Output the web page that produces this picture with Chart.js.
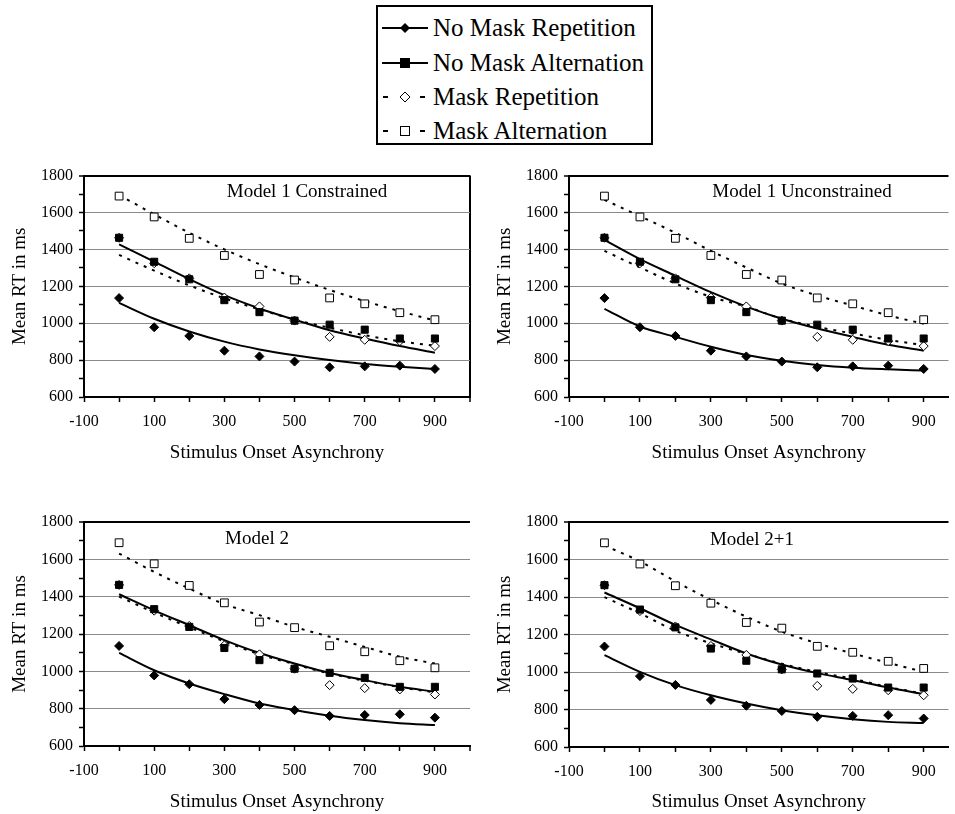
<!DOCTYPE html>
<html>
<head>
<meta charset="utf-8">
<script src="https://cdn.jsdelivr.net/npm/chart.js@4.4.0/dist/chart.umd.min.js"></script>
<style>
  body { margin: 0; background: #fff; width: 955px; height: 814px; overflow: hidden; position: relative; font-family: "Liberation Serif", "Times New Roman", serif; }
  canvas { position: absolute; }
  #legend { position: absolute; left: 376px; top: 5px; width: 273px; height: 136px; border: 2px solid #000; }
  .row { position: absolute; left: 0; height: 34px; line-height: 34px; font-size: 25px; color: #000; white-space: nowrap; }
  .row svg { position: absolute; left: 4px; top: 7px; }
  .row span { position: absolute; left: 55px; }
</style>
</head>
<body>
<div id="legend">
  <div class="row" style="top:4px"><svg width="48" height="20"><line x1="0" y1="10" x2="46" y2="10" stroke="#000" stroke-width="2"/><polygon points="23,5 28,10 23,15 18,10" fill="#000"/></svg><span>No Mask Repetition</span></div>
  <div class="row" style="top:39px"><svg width="48" height="20"><line x1="0" y1="10" x2="46" y2="10" stroke="#000" stroke-width="2"/><rect x="18" y="5" width="10" height="10" fill="#000"/></svg><span>No Mask Alternation</span></div>
  <div class="row" style="top:73px"><svg width="48" height="20"><line x1="1" y1="10" x2="6" y2="10" stroke="#000" stroke-width="2"/><line x1="38" y1="10" x2="43" y2="10" stroke="#000" stroke-width="2"/><polygon points="23,5 28,10 23,15 18,10" fill="#fff" stroke="#000" stroke-width="1"/></svg><span>Mask Repetition</span></div>
  <div class="row" style="top:107px"><svg width="48" height="20"><line x1="1" y1="10" x2="6" y2="10" stroke="#000" stroke-width="2"/><line x1="38" y1="10" x2="43" y2="10" stroke="#000" stroke-width="2"/><rect x="18.5" y="5.5" width="9" height="9" fill="#fff" stroke="#000" stroke-width="1"/></svg><span>Mask Alternation</span></div>
</div>
<canvas id="c1"></canvas>
<canvas id="c2"></canvas>
<canvas id="c3"></canvas>
<canvas id="c4"></canvas>
<script>
// stimulus onset asynchrony (ms)
const soa = [0, 100, 200, 300, 400, 500, 600, 700, 800, 900];

// observed mean RTs (same in every panel)
const obsNoMaskRep = [1136, 978, 931, 851, 820, 792, 761, 766, 770, 752];
const obsNoMaskAlt = [1463, 1333, 1238, 1125, 1060, 1014, 992, 965, 917, 917];
const obsMaskRep   = [1463, 1325, 1243, 1139, 1091, 1014, 926, 910, 903, 876];
const obsMaskAlt   = [1689, 1576, 1460, 1367, 1264, 1234, 1137, 1105, 1057, 1019];

// Model 1 Constrained fits
const m1cNoMaskRep = [1110, 1024, 955, 900, 858, 826, 800, 779, 764, 752];
const m1cNoMaskAlt = [1427, 1334, 1239, 1152, 1080, 1019, 962, 917, 876, 840];
const m1cMaskRep   = [1370, 1285, 1205, 1135, 1075, 1020, 975, 935, 902, 878];
const m1cMaskAlt   = [1695, 1590, 1490, 1400, 1320, 1248, 1180, 1120, 1065, 1015];

// Model 1 Unconstrained fits
const m1uNoMaskRep = [1078, 982, 926, 872, 828, 797, 774, 759, 750, 743];
const m1uNoMaskAlt = [1451, 1347, 1257, 1168, 1090, 1024, 971, 926, 883, 851];
const m1uMaskRep   = [1392, 1302, 1215, 1143, 1090, 1024, 980, 944, 910, 881];
const m1uMaskAlt   = [1669, 1580, 1490, 1392, 1302, 1215, 1150, 1096, 1042, 997];

// Model 2 fits
const m2NoMaskRep = [1099, 1006, 935, 878, 828, 793, 762, 739, 722, 712];
const m2NoMaskAlt = [1413, 1327, 1247, 1167, 1098, 1042, 991, 953, 917, 891];
const m2MaskRep   = [1400, 1315, 1236, 1160, 1092, 1038, 988, 950, 915, 887];
const m2MaskAlt   = [1631, 1533, 1443, 1360, 1301, 1238, 1185, 1131, 1078, 1042];

// Model 2+1 fits
const m21NoMaskRep = [1090, 1001, 930, 876, 832, 796, 769, 748, 734, 728];
const m21NoMaskAlt = [1424, 1340, 1251, 1174, 1099, 1040, 994, 957, 917, 882];
const m21MaskRep   = [1399, 1313, 1220, 1153, 1097, 1044, 1000, 964, 920, 885];
const m21MaskAlt   = [1675, 1590, 1483, 1385, 1295, 1215, 1153, 1099, 1049, 1001];

// y axis / x axis tick labels
const yTickLabels = [600, 800, 1000, 1200, 1400, 1600, 1800];
const xTickLabels = [-100, 100, 300, 500, 700, 900];

const serif = '"Liberation Serif", "Times New Roman", serif';

function pts(ys) {
    return soa.map((x, i) => ({ x: x, y: ys[i] }));
}

var panelTitle = {
    id: 'panelTitle',
    afterDraw(chart, args, opts) {
        const ctx = chart.ctx;
        ctx.save();
        ctx.font = '19px ' + serif;
        ctx.fillStyle = '#000';
        ctx.textAlign = 'center';
        ctx.textBaseline = 'middle';
        ctx.fillText(opts.text, opts.x, opts.y);
        ctx.restore();
    }
};

function makePanel(id, p, fits) {
    var cv = document.getElementById(id);
    cv.style.left = p.left + 'px';
    cv.style.top = p.top + 'px';
    cv.width = p.w;
    cv.height = p.h;

    var datasets = [
        { data: pts(obsNoMaskRep), showLine: false, pointStyle: 'rectRot', pointRadius: 4.5, backgroundColor: '#000', borderColor: '#000', borderWidth: 1, order: 0 },
        { data: pts(obsNoMaskAlt), showLine: false, pointStyle: 'rect', pointRadius: 5, backgroundColor: '#000', borderColor: '#000', borderWidth: 1, order: 0 },
        { data: pts(obsMaskRep), showLine: false, pointStyle: 'rectRot', pointRadius: 4.5, backgroundColor: '#fff', borderColor: '#000', borderWidth: 1, order: 0 },
        { data: pts(obsMaskAlt), showLine: false, pointStyle: 'rect', pointRadius: 5.5, backgroundColor: '#fff', borderColor: '#000', borderWidth: 1, order: 0 },
        { data: pts(fits[0]), borderColor: '#000', borderWidth: 2, pointRadius: 0, cubicInterpolationMode: 'monotone', order: 1 },
        { data: pts(fits[1]), borderColor: '#000', borderWidth: 2, pointRadius: 0, cubicInterpolationMode: 'monotone', order: 1 },
        { data: pts(fits[2]), borderColor: '#000', borderWidth: 2, borderDash: [3, 6], pointRadius: 0, cubicInterpolationMode: 'monotone', order: 1 },
        { data: pts(fits[3]), borderColor: '#000', borderWidth: 2, borderDash: [3, 6], pointRadius: 0, cubicInterpolationMode: 'monotone', order: 1 }
    ];

    new Chart(cv, {
        type: 'line',
        data: { datasets: datasets },
        options: {
            responsive: false,
            animation: false,
            layout: { padding: { top: p.padTop, right: p.padRight, left: 0, bottom: 0 } },
            plugins: {
                legend: { display: false },
                tooltip: { enabled: false },
                panelTitle: { text: p.title, x: p.tx, y: p.ty }
            },
            scales: {
                x: {
                    type: 'linear',
                    min: -100,
                    max: p.xMax,
                    afterBuildTicks: function (scale) {
                        var t = [];
                        for (var v = -100; v <= scale.max; v += 100) t.push({ value: v });
                        scale.ticks = t;
                    },
                    afterFit: function (scale) { scale.height = p.xH; },
                    ticks: {
                        autoSkip: false,
                        maxRotation: 0,
                        padding: 10,
                        color: '#000',
                        font: { family: serif, size: 16 },
                        callback: function (v) { return xTickLabels.indexOf(v) >= 0 ? String(v) : ''; }
                    },
                    grid: {
                        drawTicks: true,
                        tickLength: 5,
                        tickWidth: 1.5,
                        tickColor: '#000',
                        color: function (c) { return (p.rightBorder && c.tick && c.tick.value === 1000) ? '#000' : 'rgba(0,0,0,0)'; },
                        lineWidth: function (c) { return (c.tick && c.tick.value === 1000) ? 2 : 1; }
                    },
                    border: { color: '#000', width: 2 },
                    title: {
                        display: true,
                        text: 'Stimulus Onset Asynchrony',
                        color: '#000',
                        font: { family: serif, size: 19 },
                        padding: { top: 0, bottom: p.xTitlePad }
                    }
                },
                y: {
                    min: 600,
                    max: 1800,
                    afterFit: function (scale) { scale.width = p.yW; },
                    ticks: {
                        stepSize: 100,
                        autoSkip: false,
                        padding: 6,
                        color: '#000',
                        font: { family: serif, size: 16 },
                        callback: function (v) { return yTickLabels.indexOf(v) >= 0 ? String(v) : ''; }
                    },
                    grid: {
                        drawTicks: true,
                        tickLength: 5,
                        tickWidth: 1.5,
                        tickColor: '#000',
                        color: function (c) {
                            var v = c.tick ? c.tick.value : 0;
                            if (v === 1800) return '#000';
                            if (v > 600 && v % 200 === 0) return '#8a8a8a';
                            return 'rgba(0,0,0,0)';
                        },
                        lineWidth: function (c) { return (c.tick && c.tick.value === 1800) ? 2 : 1; }
                    },
                    border: { color: '#000', width: 2 },
                    title: {
                        display: true,
                        text: 'Mean RT in ms',
                        color: '#000',
                        font: { family: serif, size: 19 },
                        padding: { top: p.yTitlePad, bottom: 0 }
                    }
                }
            }
        },
        plugins: [panelTitle]
    });
}

makePanel('c1', { left: 0, top: 160, w: 480, h: 310, padTop: 14, padRight: 1, yW: 84, xH: 73, xMax: 1000, rightBorder: true,
    title: 'Model 1 Constrained', tx: 307, ty: 32, xTitlePad: 6, yTitlePad: 9 },
    [m1cNoMaskRep, m1cNoMaskAlt, m1cMaskRep, m1cMaskAlt]);

makePanel('c2', { left: 480, top: 160, w: 475, h: 310, padTop: 14, padRight: 0, yW: 89, xH: 73, xMax: 970, rightBorder: false,
    title: 'Model 1 Unconstrained', tx: 322, ty: 32, xTitlePad: 6, yTitlePad: 14 },
    [m1uNoMaskRep, m1uNoMaskAlt, m1uMaskRep, m1uMaskAlt]);

makePanel('c3', { left: 0, top: 490, w: 480, h: 324, padTop: 32, padRight: 1, yW: 84, xH: 68, xMax: 1000, rightBorder: false,
    title: 'Model 2', tx: 257, ty: 49, xTitlePad: 1, yTitlePad: 9 },
    [m2NoMaskRep, m2NoMaskAlt, m2MaskRep, m2MaskAlt]);

makePanel('c4', { left: 480, top: 490, w: 475, h: 324, padTop: 32, padRight: 0, yW: 89, xH: 67, xMax: 970, rightBorder: false,
    title: 'Model 2+1', tx: 272, ty: 50, xTitlePad: 1, yTitlePad: 14 },
    [m21NoMaskRep, m21NoMaskAlt, m21MaskRep, m21MaskAlt]);
</script>
</body>
</html>
